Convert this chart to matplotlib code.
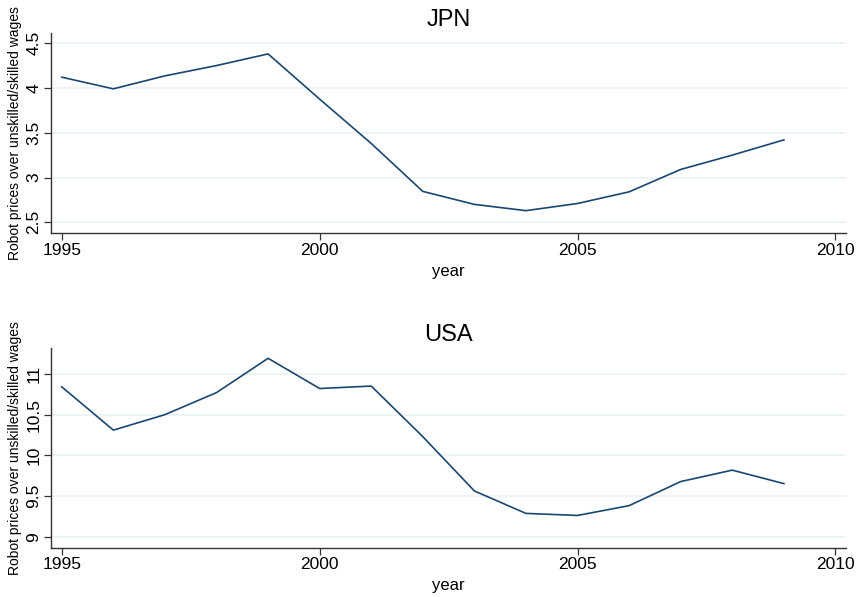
import matplotlib
matplotlib.use("Agg")
import matplotlib.pyplot as plt

plt.rcParams['font.family'] = ['Liberation Sans', 'DejaVu Sans']

years = [1995, 1996, 1997, 1998, 1999, 2000, 2001, 2002, 2003, 2004, 2005, 2006, 2007, 2008, 2009]
jpn = [4.12, 3.99, 4.135, 4.25, 4.38, 3.875, 3.38, 2.845, 2.70, 2.63, 2.71, 2.84, 3.09, 3.25, 3.42]
usa = [10.84, 10.31, 10.50, 10.77, 11.19, 10.82, 10.85, 10.23, 9.565, 9.29, 9.265, 9.385, 9.68, 9.82, 9.655]

panels = [("JPN", jpn, [2.5, 3, 3.5, 4, 4.5], ["2.5", "3", "3.5", "4", "4.5"], (2.377, 4.61)),
          ("USA", usa, [9, 9.5, 10, 10.5, 11], ["9", "9.5", "10", "10.5", "11"], (8.87, 11.32))]
xticks = [1995, 2000, 2005, 2010]

line_color = "#1a476f"
grid_color = "#eaf2f3"

fig = plt.figure(figsize=(8.58, 5.97), dpi=100)
positions = [[0.0594, 0.6092, 0.9263, 0.3350], [0.0594, 0.0826, 0.9263, 0.3350]]

for (title, vals, yt, ytl, ylim), pos in zip(panels, positions):
    ax = fig.add_axes(pos)
    ax.plot(years, vals, color=line_color, lw=1.2)
    ax.set_xlim(1994.79, 2010.2)
    ax.set_ylim(*ylim)
    ax.set_yticks(yt)
    ax.set_yticklabels(ytl, rotation=90, va='center', fontsize=12.5)
    ax.set_xticks(xticks)
    ax.set_xticklabels([str(x) for x in xticks], fontsize=12.5)
    ax.grid(axis='y', color=grid_color, lw=1.2)
    ax.set_axisbelow(True)
    for s in ['top', 'right']:
        ax.spines[s].set_visible(False)
    for s in ['left', 'bottom']:
        ax.spines[s].set_color('#333333')
        ax.spines[s].set_linewidth(1.0)
    ax.tick_params(axis='both', direction='out', length=5, width=0.9, color='#333333', pad=2)
    ax.set_title(title, fontsize=17, pad=5)
    ax.set_xlabel("year", fontsize=12, labelpad=4)
    ax.set_ylabel("Robot prices over unskilled/skilled wages", fontsize=10, labelpad=3)

fig.savefig("out.png", dpi=100)
